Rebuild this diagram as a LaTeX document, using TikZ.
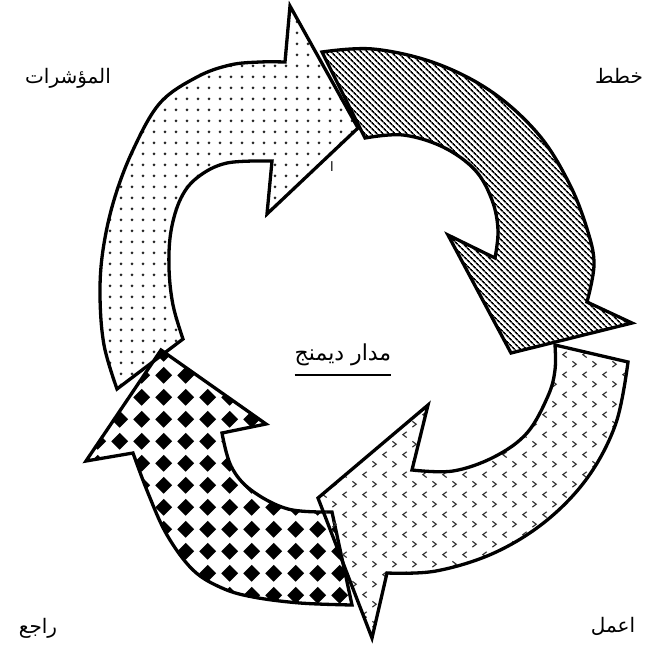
\documentclass[tikz,border=0pt]{standalone}
\usepackage{fontspec}
\newfontfamily\arabicfont[Script=Arabic]{DejaVu Sans}
\TeXXeTstate=1
\usetikzlibrary{patterns,patterns.meta}

\pgfdeclarepatternformonly{diamondgrid}{\pgfpointorigin}{\pgfpoint{21.7pt}{21.7pt}}{\pgfpoint{21.7pt}{21.7pt}}{%
  \pgfpathmoveto{\pgfpoint{10.85pt}{2.3pt}}%
  \pgfpathlineto{\pgfpoint{19.4pt}{10.85pt}}%
  \pgfpathlineto{\pgfpoint{10.85pt}{19.4pt}}%
  \pgfpathlineto{\pgfpoint{2.3pt}{10.85pt}}%
  \pgfpathclose
  \pgfusepath{fill}}

\pgfdeclarepatternformonly{chevrons}{\pgfpointorigin}{\pgfpoint{20pt}{20pt}}{\pgfpoint{20pt}{20pt}}{%
  \pgfsetlinewidth{1.2pt}%
  \pgfpathmoveto{\pgfpoint{7pt}{18pt}}\pgfpathlineto{\pgfpoint{3pt}{15pt}}\pgfpathlineto{\pgfpoint{7pt}{12pt}}%
  \pgfpathmoveto{\pgfpoint{13pt}{8pt}}\pgfpathlineto{\pgfpoint{17pt}{5pt}}\pgfpathlineto{\pgfpoint{13pt}{2pt}}%
  \pgfusepath{stroke}}

\begin{document}
\begin{tikzpicture}[
        x=1pt, y=-1pt,
        arrowpart/.style={draw=black, line width=3.3pt, line join=miter, miter limit=10},
        dotsfill/.style={pattern={Dots[distance=11pt, radius=1.5pt]}, pattern color=black!85},
        stripefill/.style={pattern={Lines[angle=-45, distance=4pt, line width=1.7pt]}},
        chevronfill/.style={pattern=chevrons, pattern color=black!80},
        checkfill/.style={pattern=diamondgrid},
        lbl/.style={font=\arabicfont\fontsize{20}{24}\selectfont, inner sep=0pt}
    ]
        \useasboundingbox (0,0) rectangle (646,649);

        % checkered arrow (bottom left)
        \draw[arrowpart, checkfill] (352,605) -- plot[smooth, tension=0.6] coordinates {(352,605) (300,603) (253,597) (222,588) (193,570) (167,535) (148,493) (133,453)}
            -- (86,461) -- (161,350) -- (266,424) -- (222,433)
            -- plot[smooth, tension=0.6] coordinates {(222,433) (231,466) (251,490) (288,509) (332,512)} -- cycle;

        % chevron arrow (bottom right)
        \draw[arrowpart, chevronfill] (628,362) -- plot[smooth, tension=0.6] coordinates {(628,362) (616,423) (588,477) (546,521) (494,553) (436,571) (387,573)}
            -- (372,638) -- (318,498) -- (428,405) -- (412,470)
            -- plot[smooth, tension=0.6] coordinates {(412,470) (453,471) (494,457) (527,433) (548,396) (555,370) (555,345)} -- cycle;

        % striped arrow (top right)
        \draw[arrowpart, stripefill] (322,52) -- plot[smooth, tension=0.6] coordinates {(322,52) (373,49) (435,63) (492,92) (539,135) (570,185) (588,232) (594,265) (587,302)}
            -- (632,323) -- (511,353) -- (448,235) -- (495,258)
            -- plot[smooth, tension=0.6] coordinates {(495,258) (498,230) (492,200) (475,170) (443,147) (403,135) (365,138)} -- cycle;

        % dotted arrow (top left)
        \draw[arrowpart, dotsfill] (117,389) -- plot[smooth, tension=0.6] coordinates {(117,389) (104,345) (100,295) (103,250) (114,200) (133,150) (160,103) (197,77) (230,65) (260,62) (285,62)}
            -- (290,6) -- (358,128) -- (267,214) -- (272,161)
            -- plot[smooth, tension=0.6] coordinates {(272,161) (227,163) (198,177) (181,198) (171,231) (169,268) (173,305) (183,339)} -- cycle;

        \node[lbl] (indicators) at (68,78) {\beginR المؤشرات\endR};
        \node[lbl] (plan) at (619,76) {\beginR خطط\endR};
        \node[lbl] (check) at (38,628) {\beginR راجع\endR};
        \node[lbl] (act) at (613,626) {\beginR اعمل\endR};
        \node[lbl, font=\arabicfont\fontsize{22}{26}\selectfont] (deming) at (343,355) {\beginR مدار ديمنج\endR};
        \draw[line width=2pt] ([yshift=-9pt]deming.south west) -- ([yshift=-9pt]deming.south east);
        \node[font=\arabicfont\fontsize{13}{15}\selectfont, inner sep=0pt] (alef) at (332,167) {\beginR ا\endR};
    \end{tikzpicture}
\end{document}
